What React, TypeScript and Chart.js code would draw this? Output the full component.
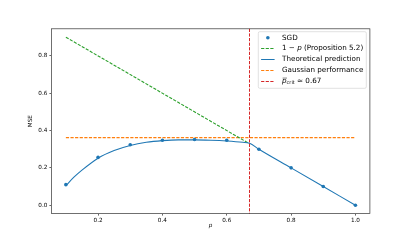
import React, { useEffect, useRef } from "react";
import { Chart, registerables } from "chart.js";

Chart.register(...registerables);

// ---- data ----
const pSgd = [0.1, 0.2, 0.3, 0.4, 0.5, 0.6, 0.7, 0.8, 0.9, 1.0];
const sgdMse = [0.11, 0.256, 0.324, 0.348, 0.352, 0.348, 0.3, 0.2, 0.1, 0.0];

const pTheory = [0.1, 0.125, 0.15, 0.2, 0.25, 0.3, 0.35, 0.4, 0.45, 0.5, 0.55, 0.6, 0.65, 0.671, 0.7, 0.8, 0.9, 1.0];
const theoryMse = [0.105, 0.15, 0.188, 0.252, 0.293, 0.32, 0.337, 0.346, 0.35, 0.35, 0.348, 0.344, 0.337, 0.332, 0.3, 0.2, 0.1, 0.0];

const pGreen = [0.1, 0.671];
const greenMse = [0.9, 0.329];

const pGauss = [0.1, 1.0];
const gaussMse = [0.362, 0.362];

const pCrit = 0.671;

const xTicks = [0.2, 0.4, 0.6, 0.8, 1.0];
const yTicks = [0.0, 0.2, 0.4, 0.6, 0.8];

const legendLabels = ["SGD", "1 − p (Proposition 5.2)", "Theoretical prediction", "Gaussian performance", "p̄crit ≈ 0.67"];

const BLUE = "#1f77b4";
const ORANGE = "#ff7f0e";
const GREEN = "#2ca02c";
const RED = "#d62728";
const FONT = "'DejaVu Sans', sans-serif";
const DASH = [3.2, 1.4];

type Seg = { t: string; italic?: boolean; sub?: boolean; bar?: boolean };

function richSegments(i: number): Seg[] {
  if (i === 1) {
    return [{ t: "1 − " }, { t: "p", italic: true }, { t: " (Proposition 5.2)" }];
  }
  if (i === 4) {
    return [{ t: "p", italic: true, bar: true }, { t: "crit", sub: true }, { t: " ≈ 0.67" }];
  }
  return [{ t: legendLabels[i] }];
}

export default function App() {
  const ref = useRef<HTMLCanvasElement>(null);

  useEffect(() => {
    document.body.style.margin = "0";
    const canvas = ref.current!;

    const overlay = {
      id: "overlay",
      afterDatasetsDraw(chart: any) {
        const { ctx, chartArea } = chart;
        const xs = chart.scales.x;
        const x = Math.floor(xs.getPixelForValue(pCrit)) + 0.5;
        ctx.save();
        ctx.strokeStyle = RED;
        ctx.lineWidth = 1;
        ctx.setLineDash(DASH);
        ctx.beginPath();
        ctx.moveTo(x, chartArea.top);
        ctx.lineTo(x, chartArea.bottom);
        ctx.stroke();
        ctx.restore();
      },
      afterDraw(chart: any) {
        const { ctx, chartArea } = chart;
        // frame
        ctx.save();
        ctx.strokeStyle = "#333";
        ctx.lineWidth = 0.7;
        ctx.strokeRect(chartArea.left, chartArea.top, chartArea.right - chartArea.left, chartArea.bottom - chartArea.top);
        ctx.restore();

        // legend
        const fs = 7.2;
        const fontFor = (s: Seg) =>
          `${s.italic ? "italic " : ""}${s.sub ? fs * 0.7 : fs}px ${FONT}`;
        ctx.save();
        const widths = legendLabels.map((_, i) =>
          richSegments(i).reduce((acc, s) => {
            ctx.font = fontFor(s);
            return acc + ctx.measureText(s.t).width;
          }, 0)
        );
        const maxW = Math.max(...widths);
        const right = chartArea.right - 3.6;
        const top = chartArea.top + 2.9;
        const rowH = 10.85;
        const textX = right - 3 - maxW;
        const left = textX - 23.7;
        const height = 56.6;
        // box
        ctx.beginPath();
        const r = 1.5;
        const w = right - left;
        ctx.moveTo(left + r, top);
        ctx.lineTo(left + w - r, top);
        ctx.quadraticCurveTo(left + w, top, left + w, top + r);
        ctx.lineTo(left + w, top + height - r);
        ctx.quadraticCurveTo(left + w, top + height, left + w - r, top + height);
        ctx.lineTo(left + r, top + height);
        ctx.quadraticCurveTo(left, top + height, left, top + height - r);
        ctx.lineTo(left, top + r);
        ctx.quadraticCurveTo(left, top, left + r, top);
        ctx.closePath();
        ctx.fillStyle = "rgba(255,255,255,0.8)";
        ctx.fill();
        ctx.strokeStyle = "#cccccc";
        ctx.lineWidth = 0.6;
        ctx.stroke();

        const handleStyles = [
          { type: "dot", color: BLUE },
          { type: "dash", color: GREEN },
          { type: "line", color: BLUE },
          { type: "dash", color: ORANGE },
          { type: "dash", color: RED },
        ];
        const hx0 = left + 2.8;
        const hx1 = left + 16.3;
        handleStyles.forEach((h, i) => {
          const cy = top + 6 + i * rowH;
          ctx.save();
          if (h.type === "dot") {
            ctx.fillStyle = h.color;
            ctx.beginPath();
            ctx.arc((hx0 + hx1) / 2, cy, 1.8, 0, Math.PI * 2);
            ctx.fill();
          } else {
            const ly = Math.floor(cy) + 0.5;
            ctx.strokeStyle = h.color;
            ctx.lineWidth = 1;
            ctx.setLineDash(h.type === "dash" ? DASH : []);
            ctx.beginPath();
            ctx.moveTo(hx0, ly);
            ctx.lineTo(hx1, ly);
            ctx.stroke();
          }
          ctx.restore();

          // text
          let x = textX;
          ctx.fillStyle = "#000";
          ctx.textBaseline = "middle";
          ctx.textAlign = "left";
          richSegments(i).forEach((s) => {
            ctx.font = fontFor(s);
            const sw = ctx.measureText(s.t).width;
            const y = s.sub ? cy + fs * 0.28 : cy;
            ctx.fillText(s.t, x, y);
            if (s.bar) {
              ctx.save();
              ctx.strokeStyle = "#000";
              ctx.lineWidth = 0.5;
              ctx.beginPath();
              ctx.moveTo(x + 0.6, cy - fs * 0.42);
              ctx.lineTo(x + sw + 0.4, cy - fs * 0.42);
              ctx.stroke();
              ctx.restore();
            }
            x += sw;
          });
        });
        ctx.restore();
      },
    };

    const tickFont = { family: FONT, size: 5.7 };

    const chart = new Chart(canvas, {
      type: "line",
      data: {
        datasets: [
          {
            label: legendLabels[0],
            data: pSgd.map((x, i) => ({ x, y: sgdMse[i] })),
            showLine: false,
            pointRadius: 1.8,
            pointBackgroundColor: BLUE,
            pointBorderWidth: 0,
            borderColor: BLUE,
            order: 0,
          },
          {
            label: legendLabels[1],
            data: pGreen.map((x, i) => ({ x, y: greenMse[i] })),
            borderColor: GREEN,
            borderWidth: 1.1,
            borderDash: DASH,
            pointRadius: 0,
            fill: false,
            order: 2,
          },
          {
            label: legendLabels[2],
            data: pTheory.map((x, i) => ({ x, y: theoryMse[i] })),
            borderColor: BLUE,
            borderWidth: 1.1,
            pointRadius: 0,
            cubicInterpolationMode: "monotone",
            fill: false,
            order: 1,
          },
          {
            label: legendLabels[3],
            data: pGauss.map((x, i) => ({ x, y: gaussMse[i] })),
            borderColor: ORANGE,
            borderWidth: 1.1,
            borderDash: DASH,
            pointRadius: 0,
            fill: false,
            order: 3,
          },
        ],
      },
      options: {
        responsive: false,
        maintainAspectRatio: false,
        animation: false,
        devicePixelRatio: 1,
        layout: { padding: { top: 28.8, right: 41.1, left: 0, bottom: 0 } },
        plugins: { legend: { display: false }, tooltip: { enabled: false } },
        scales: {
          x: {
            type: "linear",
            min: 0.055,
            max: 1.045,
            afterFit: (s: any) => {
              s.height = 26.4;
            },
            afterBuildTicks: (s: any) => {
              s.ticks = xTicks.map((v) => ({ value: v }));
            },
            ticks: {
              font: tickFont,
              color: "#000",
              padding: 1.5,
              maxRotation: 0,
              autoSkip: false,
              callback: (v: any) => Number(v).toFixed(1),
            },
            grid: { drawOnChartArea: false, drawTicks: true, tickLength: 2, color: "#000", lineWidth: 0.6 },
            border: { display: false },
            title: {
              display: true,
              text: "p",
              color: "#000",
              font: { family: FONT, size: 5.7, style: "italic" },
              padding: { top: 0, bottom: 10.6 },
            },
          },
          y: {
            type: "linear",
            min: -0.045,
            max: 0.945,
            afterFit: (s: any) => {
              s.width = 51.4;
            },
            afterBuildTicks: (s: any) => {
              s.ticks = yTicks.map((v) => ({ value: v }));
            },
            ticks: {
              font: tickFont,
              color: "#000",
              padding: 2,
              autoSkip: false,
              callback: (v: any) => Number(v).toFixed(1),
            },
            grid: { drawOnChartArea: false, drawTicks: true, tickLength: 2, color: "#000", lineWidth: 0.6 },
            border: { display: false },
            title: {
              display: true,
              text: "MSE",
              color: "#000",
              font: { family: FONT, size: 5.7 },
              padding: { top: 27.3, bottom: 0 },
            },
          },
        },
      },
      plugins: [overlay],
    } as any);

    return () => chart.destroy();
  }, []);

  return (
    <div style={{ width: 411, height: 240 }}>
      <canvas ref={ref} width={411} height={240} style={{ display: "block", width: 411, height: 240 }} />
    </div>
  );
}
